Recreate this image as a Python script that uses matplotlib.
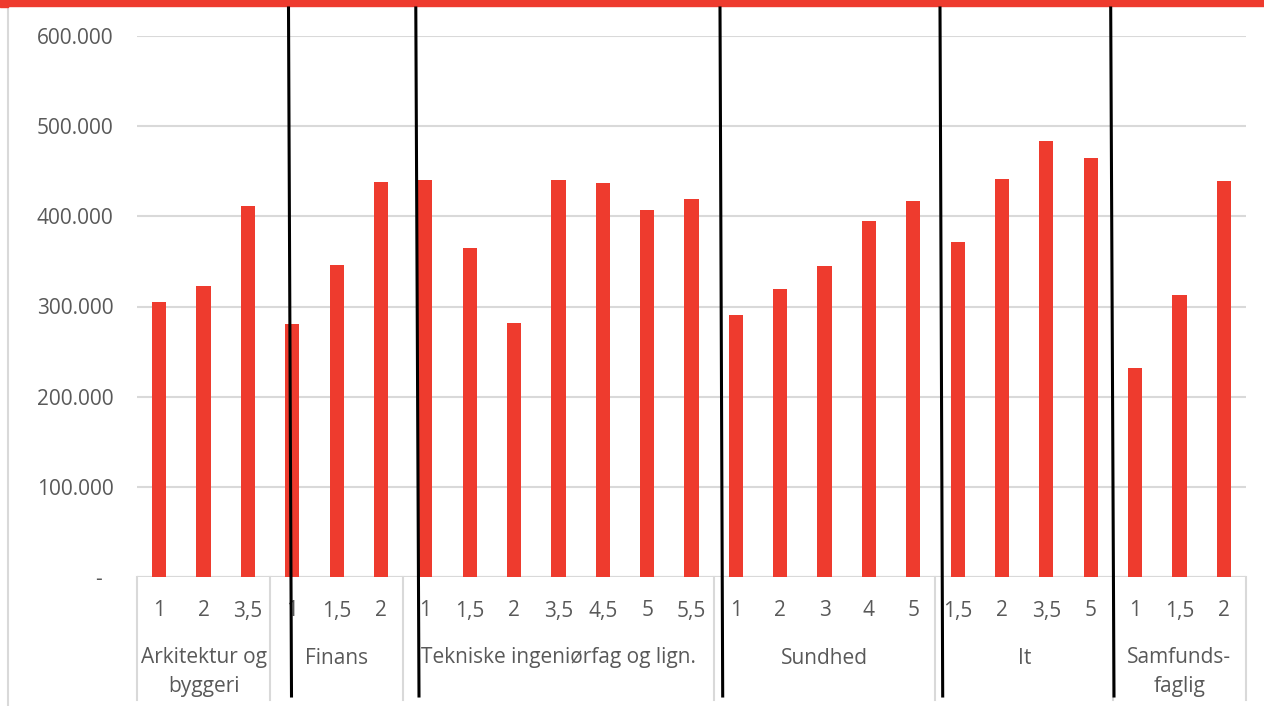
import matplotlib.pyplot as plt
from matplotlib.lines import Line2D
from matplotlib.patches import Rectangle
from matplotlib.transforms import blended_transform_factory

plt.rcParams['font.family'] = ['Open Sans', 'DejaVu Sans']

# Uddannelsesgrupper og antal år (underkategorier)
groups = ['Arkitektur og\nbyggeri', 'Finans', 'Tekniske ingeniørfag og lign.',
          'Sundhed', 'It', 'Samfunds-\nfaglig']
years = [
    ['1', '2', '3,5'],
    ['1', '1,5', '2'],
    ['1', '1,5', '2', '3,5', '4,5', '5', '5,5'],
    ['1', '2', '3', '4', '5'],
    ['1,5', '2', '3,5', '5'],
    ['1', '1,5', '2'],
]
values = [
    [305000, 323000, 411000],
    [281000, 346000, 438000],
    [440000, 365000, 282000, 440000, 437000, 407000, 419000],
    [291000, 319000, 345000, 395000, 417000],
    [372000, 441000, 484000, 465000],
    [232000, 313000, 439000],
]
yticks = [0, 100000, 200000, 300000, 400000, 500000, 600000]
ytick_labels = ['-  ', '100.000', '200.000', '300.000', '400.000', '500.000', '600.000']

red = '#EE3B2E'
grey_text = '#595959'
grid_grey = '#D9D9D9'

fig = plt.figure(figsize=(12.64, 7.06), dpi=100)
W, H = 1264, 706
ax = fig.add_axes([137 / W, 1 - 577 / H, (1246 - 137) / W, (577 - 36) / H])

labels = [y for g in years for y in g]
heights = [v for g in values for v in g]
xs = list(range(len(heights)))

ax.bar(xs, heights, width=0.32, color=red, zorder=3)
ax.set_xlim(-0.5, len(xs) - 0.5)
ax.set_ylim(0, 600000)

ax.set_yticks(yticks)
ax.set_yticklabels(ytick_labels, fontsize=15, color=grey_text)
ax.tick_params(axis='y', length=0, pad=17)
ax.yaxis.grid(True, color=grid_grey, linewidth=1.5, zorder=0)
ax.set_xticks([])
for s in ax.spines.values():
    s.set_visible(False)
ax.axhline(0, color=grid_grey, linewidth=1.5, zorder=1)

# Kategoriakse i to niveauer
tr = blended_transform_factory(ax.transData, fig.transFigure)
for x, lab in zip(xs, labels):
    ax.text(x, 1 - 611 / H, lab, transform=tr, ha='center', va='center',
            fontsize=15, color=grey_text)

start = 0
edges = [-0.5]
for g, ys in zip(groups, years):
    n = len(ys)
    mid = start + (n - 1) / 2
    ypix = 672 if '\n' in g else 658
    ax.text(mid, 1 - ypix / H, g, transform=tr, ha='center', va='center',
            fontsize=15, color=grey_text, linespacing=1.45)
    start += n
    edges.append(start - 0.5)

for e in edges:
    ax.add_line(Line2D([e, e], [1 - 577 / H, 1 - 700 / H], transform=tr,
                       color=grid_grey, linewidth=1.5, clip_on=False))

# Ramme: rød kant øverst og grå venstrekant
fig.patches.append(Rectangle((0, 1 - 6 / H), 1, 6 / H, transform=fig.transFigure,
                             color=red, zorder=5))
fig.patches.append(Rectangle((0, 1 - 7 / H), 8 / W, 7 / H, transform=fig.transFigure,
                             color=red, zorder=5))
fig.lines.append(Line2D([8 / W, 8 / W], [0, 1 - 7 / H], transform=fig.transFigure,
                        color=grid_grey, linewidth=1.5))

# Håndtegnede skillelinjer mellem grupperne
for xt, xb in [(288.5, 291.5), (415.8, 419), (720, 722.7), (940, 942.7), (1110.7, 1114)]:
    fig.lines.append(Line2D([xt / W, xb / W], [1 - 8 / H, 1 - 696 / H],
                            transform=fig.transFigure, color='black', linewidth=2.2,
                            zorder=10))

fig.savefig('out.png', dpi=100)
